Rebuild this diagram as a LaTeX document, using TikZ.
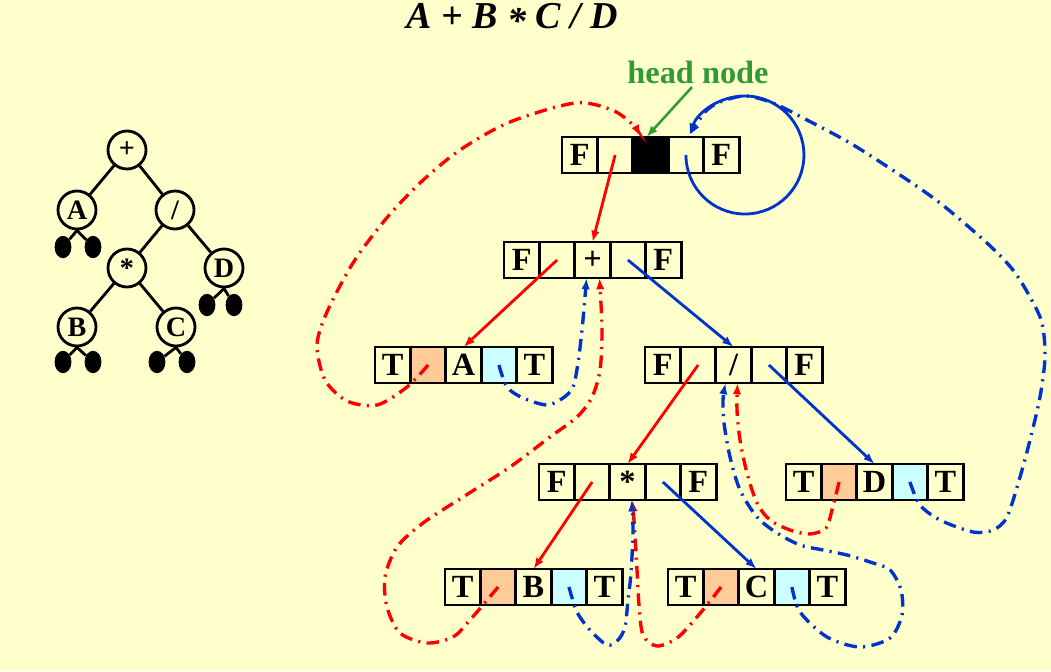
\documentclass[tikz,border=0pt]{standalone}
\usepackage{fontspec}
\setmainfont{Liberation Serif}
\usetikzlibrary{arrows.meta,positioning,shapes.geometric}

\definecolor{paper}{HTML}{FFFFCC}
\definecolor{thred}{HTML}{FF0000}
\definecolor{thblue}{HTML}{0033CC}
\definecolor{lfill}{HTML}{FFCC99}
\definecolor{rfill}{HTML}{CCFFFF}
\definecolor{hgreen}{HTML}{339933}

% inner record: F | left | data | right | F
\newcommand{\branchrec}[4][]{%
  \node[cell] (#2-1) at (#3) {F};
  \node[cell, right=0pt of #2-1] (#2-2) {};
  \node[cell, right=0pt of #2-2, #1] (#2-3) {#4};
  \node[cell, right=0pt of #2-3] (#2-4) {};
  \node[cell, right=0pt of #2-4] (#2-5) {F};}
% leaf record: T | thread | data | thread | T
\newcommand{\leafrec}[3]{%
  \node[cell] (#1-1) at (#2) {T};
  \node[cell, right=0pt of #1-1, fill=lfill] (#1-2) {};
  \node[cell, right=0pt of #1-2] (#1-3) {#3};
  \node[cell, right=0pt of #1-3, fill=rfill] (#1-4) {};
  \node[cell, right=0pt of #1-4] (#1-5) {T};}

\begin{document}
\begin{tikzpicture}[
  x=0.025cm, y=-0.025cm,
  cell/.style={draw, line width=2.1pt, fill=paper, minimum width=0.885cm, minimum height=0.9cm, inner sep=0pt, outer sep=0pt, font=\fontsize{23}{23}\selectfont\bfseries},
  tnode/.style={circle, draw, line width=2pt, minimum size=0.95cm, inner sep=0pt, font=\fontsize{20}{20}\selectfont\bfseries},
  tleaf/.style={ellipse, fill=black, minimum width=0.42cm, minimum height=0.56cm, inner sep=0pt},
  tedge/.style={line width=2pt},
  lptr/.style={thred, line width=2pt, -{Latex[length=8pt,width=6pt]}},
  rptr/.style={thblue, line width=2pt, -{Latex[length=8pt,width=6pt]}},
  lthr/.style={thred, line width=2.4pt, dash pattern=on 9pt off 4.5pt on 1.5pt off 4.5pt, -{Latex[length=8pt,width=6pt]}},
  rthr/.style={thblue, line width=2.4pt, dash pattern=on 9pt off 4.5pt on 1.5pt off 4.5pt, -{Latex[length=8pt,width=6pt]}}
]
\fill[paper] (0,0) rectangle (1051,671);
\useasboundingbox (0,0) rectangle (1051,671);

\node[font=\fontsize{27}{27}\selectfont\bfseries\itshape, anchor=base, inner sep=0pt] (title) at (512,28) {A + B \raisebox{-0.3ex}{*} C / D};

% expression tree
\node[tnode] (tp) at (127,150) {+};
\node[tnode] (ta) at (77,210) {A};
\node[tnode] (tdv) at (175,210) {/};
\node[tnode] (tml) at (127,268) {\raisebox{-0.3ex}{*}};
\node[tnode] (td) at (224,268) {D};
\node[tnode] (tb) at (77,327) {B};
\node[tnode] (tc) at (176,327) {C};
\node[tleaf] (ta-l) at (63,247) {};
\node[tleaf] (ta-r) at (93,247) {};
\node[tleaf] (td-l) at (207,305) {};
\node[tleaf] (td-r) at (234,305) {};
\node[tleaf] (tb-l) at (63,362) {};
\node[tleaf] (tb-r) at (93,362) {};
\node[tleaf] (tc-l) at (157,362) {};
\node[tleaf] (tc-r) at (187,362) {};
\foreach \p/\c in {tp/ta, tp/tdv, tdv/tml, tdv/td, tml/tb, tml/tc}
  \draw[tedge] (\p) -- (\c);
\foreach \p in {ta, td, tb, tc}
  \draw[tedge] (\p.south) -- (\p-l) (\p.south) -- (\p-r);

% threaded records
\branchrec[fill=black]{hd}{579.7,155}{}
\branchrec{pl}{521.7,260}{+}
\branchrec{dv}{662.7,365}{/}
\branchrec{ml}{556.7,482}{\raisebox{-0.35ex}{*}}
\leafrec{ra}{392.7,365}{A}
\leafrec{rd}{803.7,482}{D}
\leafrec{rb}{462.7,587}{B}
\leafrec{rc}{685.7,587}{C}

\node[font=\fontsize{23}{23}\selectfont\bfseries, text=hgreen, inner sep=1pt] (hlabel) at (698,72) {head node};
\draw[hgreen, line width=1.8pt, -{Latex[length=8pt,width=6pt]}] ([shift={(-6,2)}]hlabel.south) -- ([shift={(-4,0)}]hd-3.north);

% child links
\draw[lptr] (hd-2.center) -- (pl-3.north);
\draw[lptr] (pl-2.center) -- (ra-3.north);
\draw[lptr] (dv-2.center) -- (ml-3.north);
\draw[lptr] (ml-2.center) -- (rb-3.north);
\draw[rptr] (pl-4.center) -- (dv-3.north);
\draw[rptr] (dv-4.center) -- (rd-3.north);
\draw[rptr] (ml-4.center) -- (rc-3.north);

% left threads
\draw[lthr] plot[smooth] coordinates {(ra-2.center) (407,387) (377,405) (347,401) (325,380) (317,345) (327,312) (353,263) (385,220) (420,183) (460,150) (510,122) (575,103) (612,110) (632,124) ([shift={(8,-1)}]hd-3.north west)};
\draw[lthr] plot[smooth] coordinates {(rb-2.center) (470,620) (453,637) (427,643) (400,633) (387,607) (385,577) (397,547) (423,523) (463,497) (510,467) (550,437) (577,417) (592,397) (600,370) (602,330) ([shift={(7,0)}]pl-3.south)};
\draw[lthr] plot[smooth] coordinates {(rc-2.center) (697,617) (677,638) (657,646) (643,635) (639,605) (637,570) (635,535) ([shift={(5,0)}]ml-3.south)};
\draw[lthr] plot[smooth] coordinates {(rd-2.center) (832,510) (826,528) (810,534) (790,530) (770,520) (757,503) (747,473) (740,440) (737,410) ([shift={(4,0)}]dv-3.south)};

% right threads
\draw[rthr] plot[smooth] coordinates {(ra-4.center) (507,387) (523,398) (547,405) (563,398) (573,387) (578,363) (582,330) (585,297) ([shift={(-6,0)}]pl-3.south)};
\draw[rthr] plot[smooth] coordinates {(rb-4.center) (577,612) (590,630) (607,645) (618,640) (625,627) (628,600) (631,573) (633,530) ([shift={(4,0)}]ml-3.south)};
\draw[rthr] plot[smooth] coordinates {(rc-4.center) (800,612) (827,637) (860,647) (890,638) (902,615) (901,590) (890,570) (870,562) (847,555) (823,550) (800,545) (777,533) (757,517) (740,490) (730,457) (724,423) (723,400) ([shift={(-8,0)}]dv-3.south)};
\draw[rthr] plot[smooth] coordinates {(rd-4.center) (920,505) (940,520) (973,532) (993,530) (1007,517) (1020,477) (1030,440) (1040,397) (1045,357) (1042,323) (1030,297) (1013,270) (987,243) (940,203) (897,173) (850,143) (807,120) (773,103) (745,96) (720,102) (705,112) ([shift={(4,-2)}]hd-4.north)};

% head node points to itself
\draw[rptr] (hd-4.center) arc[start angle=180, end angle=-160, radius=59];
\end{tikzpicture}
\end{document}
